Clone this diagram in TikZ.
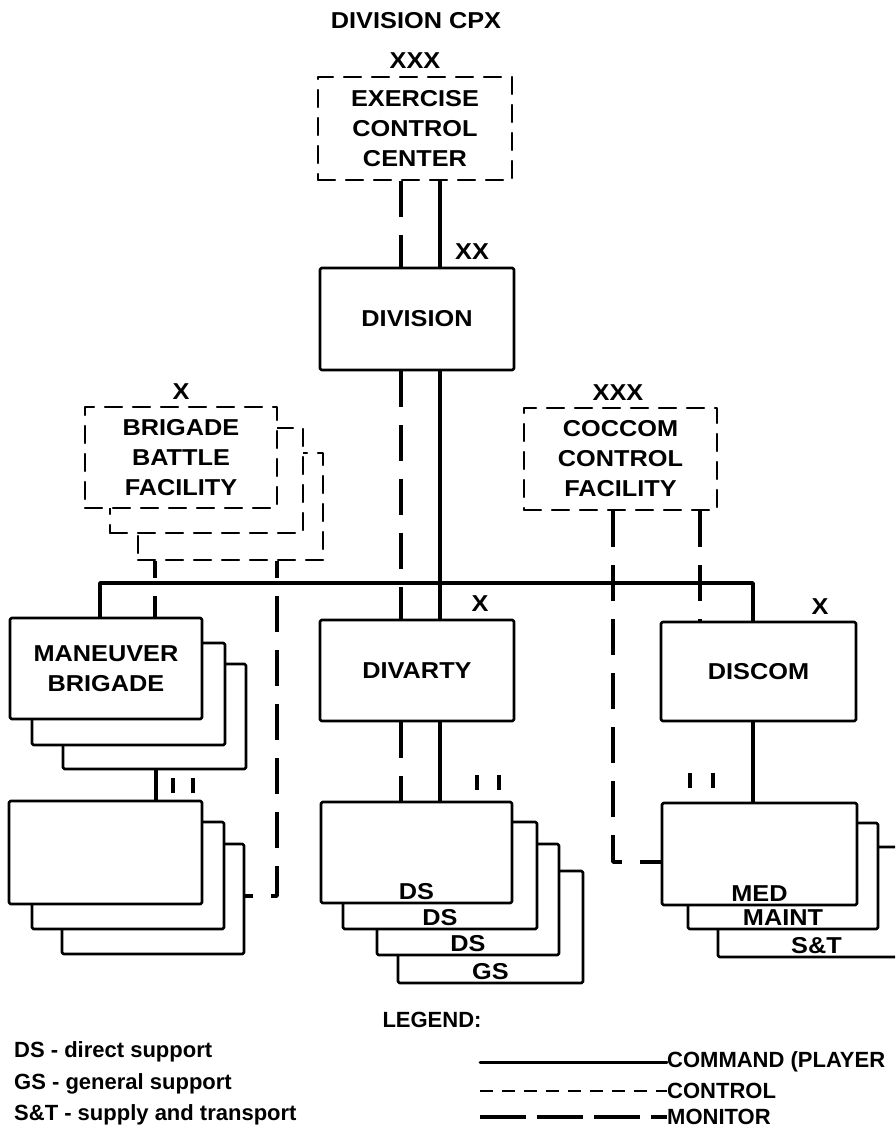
\documentclass[tikz,border=0pt]{standalone}
\usepackage{fontspec}
\setmainfont{Liberation Sans}
\newfontfamily\widefont[FakeStretch=1.1]{Liberation Sans}
\begin{document}
\begin{tikzpicture}[x=1pt,y=-1pt,line cap=round,line join=round,
	font=\widefont\bfseries\fontsize{23}{30}\selectfont,
	corners/.style n args={4}{minimum width={(#3-#1)*1pt},minimum height={(#4-#2)*1pt},at={({(#1+#3)/2},{(#2+#4)/2})},inner sep=0pt,align=center},
	solidbox/.style={draw,line width=2.6pt,fill=white,rounded corners=1.5pt},
	dashbox/.style={draw,line width=2.4pt,fill=white,dash pattern=on 17pt off 11pt},
	cmdline/.style={line width=3.6pt},
	monline/.style={line width=3.6pt,dash pattern=on 36pt off 18pt,line cap=butt},
	ctlline/.style={line width=2pt,dash pattern=on 13pt off 9pt,line cap=butt},
	echelon/.style={line width=4.5pt,line cap=butt},
	lbl/.style={inner sep=0pt},
	legend/.style={font=\bfseries\fontsize{22}{24}\selectfont,inner sep=0pt,anchor=west}]
	\useasboundingbox (0,0) rectangle (895,1133);
	\clip (0,0) rectangle (895,1133);
	% control centre and division
	\node[lbl] (title) at (416,21) {DIVISION CPX};
	\node[lbl] (eccx) at (415,61) {XXX};
	\node[dashbox,corners={318}{77}{512}{180}] (ecc) {EXERCISE\\CONTROL\\CENTER};
	\node[lbl] (divxx) at (472,252) {XX};
	\node[solidbox,corners={320}{268}{514}{370}] (division) {DIVISION};
	\coordinate (hub) at (440,583); \coordinate (monx) at (401,583);
	\coordinate (barl) at (100,583); \coordinate (barr) at (753,583);
	% facilities
	\foreach \n/\xa/\ya/\xb/\yb in {3/138/453/323/560,2/110/428/303/533}{\node[dashbox,corners={\xa}{\ya}{\xb}{\yb}] (bbf\n) {};}
	\node[dashbox,corners={85}{407}{277}{508}] (bbf1) {BRIGADE\\BATTLE\\FACILITY};
	\node[lbl] (bbfx) at (181,392) {X};
	\node[lbl] (cocx) at (618,393) {XXX};
	\node[dashbox,corners={524}{408}{717}{510}] (coc) {COCCOM\\CONTROL\\FACILITY};
	% brigades, divarty, discom
	\foreach \n/\xa/\ya/\xb/\yb in {3/63/664/246/769,2/32/643/225/745}{\node[solidbox,corners={\xa}{\ya}{\xb}{\yb}] (man\n) {};}
	\node[solidbox,corners={10}{618}{202}{719}] (man1) {MANEUVER\\BRIGADE};
	\node[solidbox,corners={320}{620}{514}{721}] (divarty) {DIVARTY};
	\node[lbl] (divartyx) at (480,604) {X};
	\node[solidbox,corners={661}{622}{856}{721}] (discom) {DISCOM};
	\node[lbl] (discomx) at (820,607) {X};
	% battalions
	\foreach \n/\xa/\ya/\xb/\yb in {3/62/844/244/954,2/32/822/224/929,1/9/801/202/904}{\node[solidbox,corners={\xa}{\ya}{\xb}{\yb}] (bn\n) {};}
	\foreach \n/\xa/\ya/\xb/\yb/\t in {4/398/871/583/983/GS,3/377/844/559/955/DS,2/343/822/537/929/DS,1/321/802/512/903/DS}{
		\node[solidbox,corners={\xa}{\ya}{\xb}{\yb}] (sp\n) {};
		\node[lbl,anchor=base] (lsp\n) at ([yshift=5pt]sp\n.south) {\t};}
	\foreach \n/\xa/\ya/\xb/\yb/\t in {3/718/847/915/957/S\&T,2/688/823/878/929/MAINT,1/662/803/857/905/MED}{
		\node[solidbox,corners={\xa}{\ya}{\xb}{\yb}] (med\n) {};
		\node[lbl,anchor=base] (lmed\n) at ([yshift=5pt]med\n.south) {\t};}
	% command and monitor lines
	\draw[monline] (ecc.south -| monx) -- (division.north -| monx);
	\draw[cmdline] (ecc.south -| hub) -- (division.north -| hub);
	\draw[monline] (division.south -| monx) -- (divarty.north -| monx);
	\draw[cmdline] (division.south -| hub) -- (divarty.north -| hub);
	\draw[cmdline] (man1.north -| barl) -- (barl) -- (barr) -- (discom.north -| barr);
	\draw[monline] (divarty.south -| monx) -- (sp1.north -| monx);
	\draw[cmdline] (divarty.south -| hub) -- (sp1.north -| hub);
	\coordinate (manx) at (156,785);
	\draw[cmdline] (man3.south -| manx) -- (bn1.north -| manx);
	\draw[cmdline] (discom.south -| barr) -- (med1.north -| barr);
	\coordinate (bbfl) at (155,583); \coordinate (bbfr) at (277,896);
	\draw[monline,dash phase=19pt] (bbf3.south -| bbfl) -- (man1.north -| bbfl);
	\draw[monline,dash phase=19pt] (bbf3.south -| bbfr) |- (bn3.east |- bbfr);
	\coordinate (cocl) at (613,862); \coordinate (cocr) at (700,583);
	\draw[monline] (coc.south -| cocl) |- (med1.west |- cocl);
	\draw[monline] (coc.south -| cocr) -- (discom.north -| cocr);
	\foreach \x/\y in {173/778,193/778,477/775,499/775,690/773,713/773}{\draw[echelon] (\x,\y) -- (\x,\y+15);}
	% legend
	\node[legend,anchor=center] (legtitle) at (432,1020) {LEGEND:};
	\node[legend] (lds) at (14,1052) {DS - direct support};
	\node[legend] (lgs) at (14,1084) {GS - general support};
	\node[legend] (lst) at (14,1115) {S\&T - supply and transport};
	\node[legend] (lcmd) at (667,1062) {COMMAND (PLAYER};
	\node[legend] (lctl) at (667,1091) {CONTROL};
	\node[legend] (lmon) at (667,1117) {MONITOR};
	\coordinate (k1) at (480,1062); \coordinate (k2) at (480,1091); \coordinate (k3) at (480,1117);
	\draw[cmdline,line width=3pt] (k1) -- (lcmd.west);
	\draw[ctlline] (k2) -- (lctl.west);
	\draw[monline,dash pattern=on 46pt off 11pt] (k3) -- (lmon.west);
\end{tikzpicture}
\end{document}
